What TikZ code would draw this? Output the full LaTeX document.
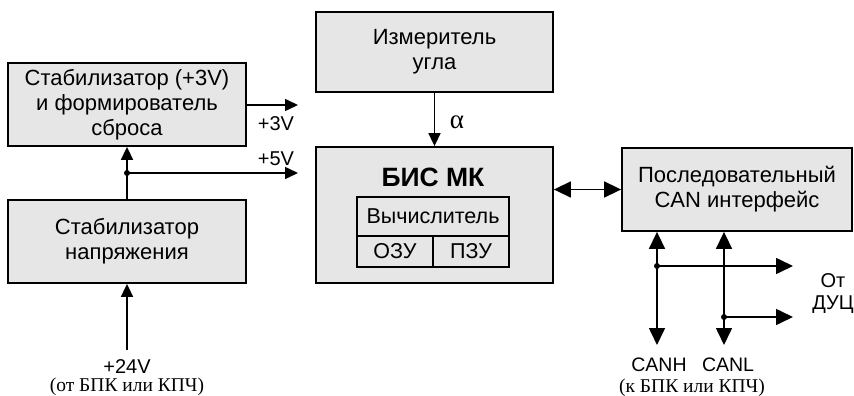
\documentclass[tikz,border=0pt]{standalone}
\usepackage{fontspec}
\setmainfont{Liberation Sans}
\newfontfamily\serifr{Liberation Serif}
\usetikzlibrary{arrows.meta}
\definecolor{boxgray}{HTML}{E6E6E6}
\tikzset{
  blk/.style={draw, line width=1.8pt, fill=boxgray, inner sep=0pt, align=center,
    font=\fontsize{22}{25}\selectfont},
  cell/.style={draw, line width=1.1pt, inner sep=0pt, font=\fontsize{21.5}{24}\selectfont},
  conn/.style={line width=1.6pt, -{Triangle[length=13pt,width=12pt]}},
  bconn/.style={line width=1.6pt, -{Triangle[length=17pt,width=16pt]}},
  dconn/.style={line width=1.6pt, {Triangle[length=17pt,width=16pt]}-{Triangle[length=17pt,width=16pt]}},
  lbl/.style={inner sep=0pt, font=\fontsize{20}{22}\selectfont, align=center},
  slbl/.style={inner sep=0pt, font=\serifr\fontsize{19.5}{22}\selectfont},
  dot/.style={circle, fill, inner sep=0pt, minimum size=6pt}
}
\begin{document}
\begin{tikzpicture}[x=1pt,y=-1pt]
\useasboundingbox (0,0) rectangle (854,396);
\node[blk, minimum width=238pt, minimum height=83pt] (st3) at (127,104.5)
  {Стабилизатор (+3V)\\и формирователь\\сброса};
\node[blk, minimum width=238pt, minimum height=83pt] (st24) at (127,241.5)
  {Стабилизатор\\напряжения};
\node[blk, minimum width=237pt, minimum height=80pt] (meas) at (434.5,52)
  {Измеритель\\угла};
\node[blk, minimum width=237pt, minimum height=136pt] (bis) at (434.5,215) {};
\node[inner sep=0pt, font=\bfseries\fontsize{26.5}{30}\selectfont] (bist) at (433,177) {БИС МК};
\node[cell, minimum width=152pt, minimum height=39pt] (calc) at (433,216.5) {Вычислитель};
\node[cell, minimum width=76pt, minimum height=31pt] (ram) at (395,251.5) {ОЗУ};
\node[cell, minimum width=76pt, minimum height=31pt] (rom) at (471,251.5) {ПЗУ};
\node[blk, minimum width=230pt, minimum height=83pt] (can) at (737,189.5)
  {Последовательный\\CAN интерфейс};

% power
\coordinate (o3) at (298,105);
\draw[conn] (st3.east |- o3) -- (o3);
\node[lbl] (l3) at (276,124) {+3V};
\coordinate (j5) at (127,173);
\coordinate (o5) at (298,173);
\draw[conn] (st24.north) -- (st3.south);
\draw[conn] (j5) -- (o5);
\node[dot] (d5) at (j5) {};
\node[lbl] (l5) at (276,159) {+5V};
\coordinate (i24) at (127,350);
\draw[conn] (i24) -- (st24.south);
\node[lbl] (l24) at (127,367) {+24V};
\node[slbl] (s24) at (127,387) {(от БПК или КПЧ)};

% alpha
\draw[conn] (meas.south) -- (bis.north);
\node[inner sep=0pt, font=\serifr\fontsize{27}{28}\selectfont] (al) at (457,122) {α};

% bus
\draw[dconn] (can.west -| bis.east) -- (can.west);

% CAN lines
\coordinate (ch) at (657,345);
\coordinate (cl) at (724,345);
\draw[dconn] (ch) -- (ch |- can.south);
\draw[dconn] (cl) -- (cl |- can.south);
\coordinate (jh) at (657,266);
\coordinate (jl) at (724,317);
\coordinate (oh) at (793,266);
\coordinate (ol) at (793,317);
\draw[bconn] (jh) -- (oh);
\draw[bconn] (jl) -- (ol);
\node[dot] (dh) at (jh) {};
\node[dot] (dl) at (jl) {};
\node[lbl] (duc) at (833,294) {От\\ДУЦ};
\node[lbl, font=\fontsize{19.5}{22}\selectfont] (lh) at (659,365) {CANH};
\node[lbl, font=\fontsize{19.5}{22}\selectfont] (ll) at (728,365) {CANL};
\node[slbl] (sc) at (692,388) {(к БПК или КПЧ)};
\end{tikzpicture}
\end{document}
